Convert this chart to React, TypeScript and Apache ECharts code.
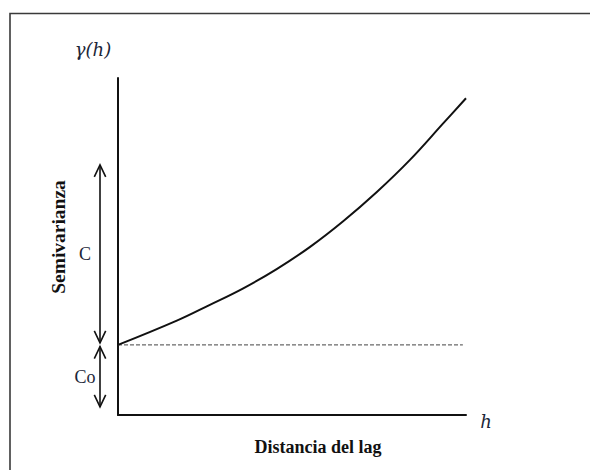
import React, { useEffect, useRef } from "react";
import * as echarts from "echarts";

// Experimental semivariogram: lag distance h vs semivariance γ(h)
const lagDistance = [0, 1.69, 2.64, 3.6, 4.56, 5.52, 6.47, 7.43, 8.39, 9.35, 10.0];
const semivariance = [2.08, 2.8, 3.27, 3.76, 4.33, 4.99, 5.75, 6.61, 7.57, 8.66, 9.4];

// Nugget effect (Co) level, drawn as a dashed reference line
const nugget = 2.08;
const nuggetLineEnd = 9.91;

// Vertical dimension arrows: [label, bottom, top]
const arrowLabels = ["C", "Co"];
const arrowBottoms = [2.14, 0.24];
const arrowTops = [7.42, 2.03];

const textColor = "#1c2638";
const serif = "Liberation Serif";
const serifItalic = "DejaVu Serif";

export default function App() {
  const ref = useRef<HTMLDivElement>(null);

  useEffect(() => {
    if (!ref.current) return;
    const chart = echarts.init(ref.current, null, { renderer: "svg" });

    const curve = lagDistance.map((x, i) => [x, semivariance[i]]);
    const arrows = arrowLabels.map((l, i) => [arrowBottoms[i], arrowTops[i], i]);

    const label = (text: string, x: number, y: number, extra: any, rotation = 0) => ({
      type: "text",
      x,
      y,
      rotation,
      style: {
        text,
        fontFamily: serif,
        textAlign: "center",
        textVerticalAlign: "middle",
        ...extra,
      },
    });

    chart.setOption({
      animation: false,
      backgroundColor: "#ffffff",
      grid: { left: 118, right: 124, top: 78, bottom: 55 },
      xAxis: {
        type: "value",
        min: 0,
        max: 10,
        axisLine: { show: true, lineStyle: { color: "#111", width: 2 } },
        axisTick: { show: false },
        axisLabel: { show: false },
        splitLine: { show: false },
      },
      yAxis: {
        type: "value",
        min: 0,
        max: 10,
        axisLine: { show: true, lineStyle: { color: "#111", width: 2 } },
        axisTick: { show: false },
        axisLabel: { show: false },
        splitLine: { show: false },
      },
      graphic: [
        {
          type: "rect",
          shape: { x: 10, y: 13.5, width: 640, height: 520 },
          style: { fill: "none", stroke: "#3a3a3a", lineWidth: 1.6 },
          silent: true,
        },
        label("γ(h)", 93, 49, { fontSize: 18, fontStyle: "italic", fontFamily: serifItalic, fill: textColor }),
        label("h", 486, 421, { fontSize: 18, fontStyle: "italic", fontFamily: serifItalic, fill: textColor }),
        label("Distancia del lag", 318, 447, { fontSize: 18, fontWeight: "bold", fill: "#111" }),
        label("Semivarianza", 58, 237, { fontSize: 19.5, fontWeight: "bold", fill: "#111" }, Math.PI / 2),
      ],
      series: [
        {
          type: "line",
          data: [
            [0, nugget],
            [nuggetLineEnd, nugget],
          ],
          symbol: "none",
          silent: true,
          lineStyle: { color: "#444", width: 1, type: [4, 2] },
        },
        {
          type: "line",
          data: curve,
          smooth: 0.4,
          symbol: "none",
          silent: true,
          lineStyle: { color: "#111", width: 2, join: "round" },
        },
        {
          type: "custom",
          clip: false,
          silent: true,
          data: arrows,
          renderItem: (params: any, api: any) => {
            const lo = api.coord([0, api.value(0)]);
            const hi = api.coord([0, api.value(1)]);
            const idx = api.value(2);
            const x = lo[0] - 18;
            const yTop = hi[1];
            const yBot = lo[1];
            const hw = 5.7;
            const hh = 12;
            const stroke = { stroke: "#111", lineWidth: 1.6, fill: "none" };
            return {
              type: "group",
              children: [
                {
                  type: "line",
                  shape: { x1: x, y1: yTop, x2: x, y2: yBot },
                  style: stroke,
                },
                {
                  type: "polyline",
                  shape: { points: [[x - hw, yTop + hh], [x, yTop], [x + hw, yTop + hh]] },
                  style: stroke,
                },
                {
                  type: "polyline",
                  shape: { points: [[x - hw, yBot - hh], [x, yBot], [x + hw, yBot - hh]] },
                  style: stroke,
                },
                {
                  type: "text",
                  x: x - 15,
                  y: (yTop + yBot) / 2,
                  style: {
                    text: arrowLabels[idx],
                    fontFamily: serif,
                    fontSize: 18,
                    fill: textColor,
                    textAlign: "center",
                    textVerticalAlign: "middle",
                  },
                },
              ],
            };
          },
        },
      ],
    });

    return () => chart.dispose();
  }, []);

  return (
    <div
      ref={ref}
      style={{ position: "absolute", left: 0, top: 0, width: 590, height: 470 }}
    />
  );
}
